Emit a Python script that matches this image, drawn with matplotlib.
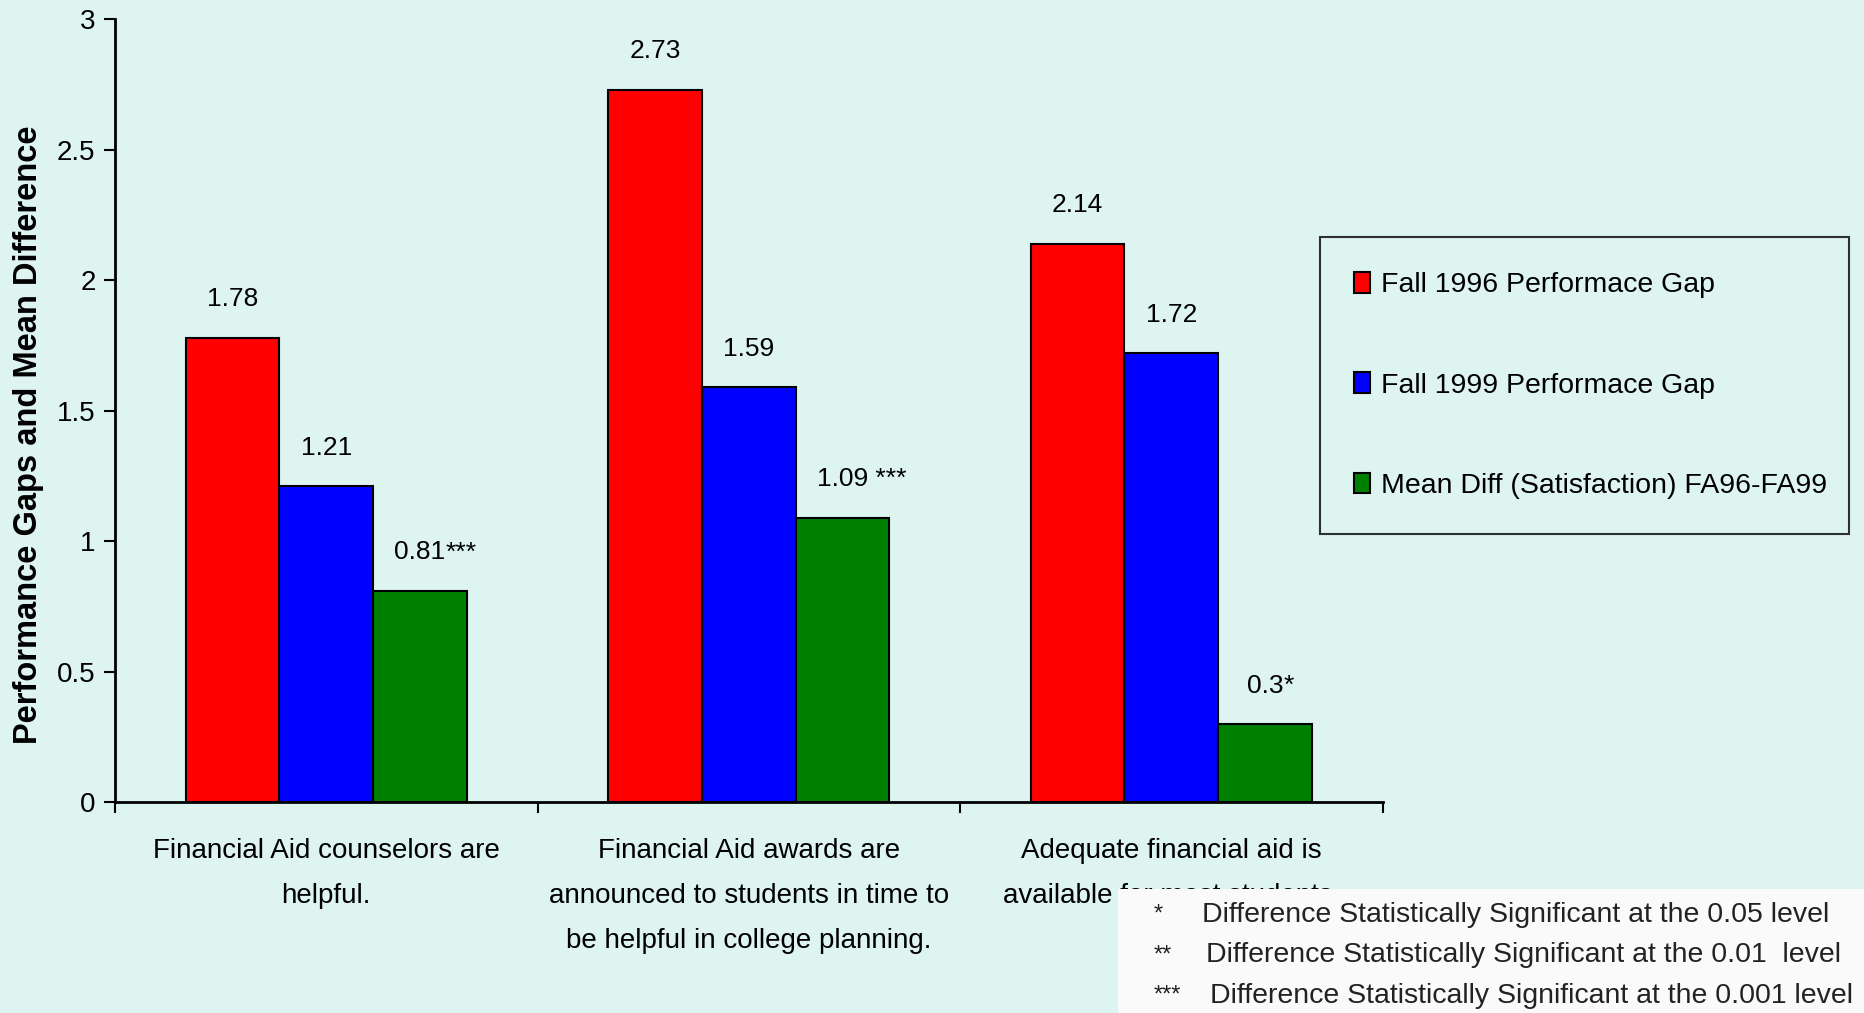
import matplotlib
matplotlib.use('Agg')
import matplotlib.pyplot as plt
import numpy as np
from matplotlib.patches import Rectangle

categories = ['Financial Aid counselors are\nhelpful.',
              'Financial Aid awards are\nannounced to students in time to\nbe helpful in college planning.',
              'Adequate financial aid is\navailable for most students.']
fall96 = [1.78, 2.73, 2.14]
fall99 = [1.21, 1.59, 1.72]
mean_diff = [0.81, 1.09, 0.3]
stars = ['***', ' ***', '*']
series_names = ['Fall 1996 Performace Gap', 'Fall 1999 Performace Gap',
                'Mean Diff (Satisfaction) FA96-FA99']
colors = ['#FF0000', '#0000FF', '#008000']
notes = [('*', 'Difference Statistically Significant at the 0.05 level'),
         ('**', 'Difference Statistically Significant at the 0.01  level'),
         ('***', 'Difference Statistically Significant at the 0.001 level')]

BG = '#DDF4F0'
BAR_W = 0.222
plt.rcParams['font.family'] = ['Liberation Sans', 'DejaVu Sans']

fig = plt.figure(figsize=(18.64, 10.13), dpi=100, facecolor=BG)
ax = fig.add_axes([0.0617, 0.208, 0.680, 0.773])
ax.set_facecolor(BG)

x = np.arange(len(categories))
handles = []
for i, (vals, col, name) in enumerate(zip([fall96, fall99, mean_diff], colors, series_names)):
    bars = ax.bar(x + (i - 1) * BAR_W, vals, BAR_W, color=col, edgecolor='black',
                  linewidth=1.5, label=name, zorder=2)
    handles.append(bars)
    for j, (b, v) in enumerate(zip(bars, vals)):
        t = ax.annotate(f'{v:g}', xy=(b.get_x() + b.get_width() / 2, v),
                        xytext=(0, 19), textcoords='offset points',
                        ha='center', va='bottom', fontsize=19)
        if i == 2:
            ax.annotate(stars[j], xy=(1, 0), xycoords=t, ha='left', va='bottom',
                        fontsize=19)

ax.set_xlim(-0.5, 2.5)
ax.set_ylim(0, 3)
ax.set_yticks([0, 0.5, 1, 1.5, 2, 2.5, 3])
ax.set_yticklabels(['0', '0.5', '1', '1.5', '2', '2.5', '3'])
ax.tick_params(axis='y', labelsize=20, length=8, width=1.5, direction='out', pad=6)

ax.set_xticks([-0.5, 0.5, 1.5, 2.5])
ax.set_xticklabels([])
ax.tick_params(axis='x', which='major', length=8, width=1.5, direction='out')
ax.set_xticks(x, minor=True)
ax.set_xticklabels(categories, minor=True, fontsize=20, linespacing=1.95)
ax.tick_params(axis='x', which='minor', length=0, pad=26)

for s in ['top', 'right']:
    ax.spines[s].set_visible(False)
for s in ['left', 'bottom']:
    ax.spines[s].set_linewidth(2)

ax.set_ylabel('Performance Gaps and Mean Difference', fontsize=23.5, fontweight='bold')
ax.yaxis.set_label_coords(-0.056, 0.469)

leg = fig.legend(handles=handles, loc='upper left',
                 bbox_to_anchor=(0.708, 0.468, 0.284, 0.298), mode='expand',
                 frameon=True, fancybox=False, edgecolor='black', facecolor=BG,
                 prop={'size': 20.5}, labelspacing=2.6,
                 borderpad=1.22, handlelength=0.55, handleheight=0.75,
                 handletextpad=0.4, borderaxespad=0)
leg.get_frame().set_linewidth(1.5)

# significance note box pasted over the bottom right corner
fig.patches.append(Rectangle((0.600, 0.0), 0.400, 0.122, transform=fig.transFigure,
                             facecolor='#FAFAFA', edgecolor='none', zorder=5))
for k, (st, txt) in enumerate(notes):
    yy = 0.097 - k * 0.040
    fig.text(0.619, yy, st, fontsize=17, color='#222222', va='center', zorder=6)
    fig.text(0.645 + 0.002 * k, yy, txt, fontsize=20.5, color='#222222', va='center',
             zorder=6)

fig.savefig('out.png', dpi=100, facecolor=BG)
